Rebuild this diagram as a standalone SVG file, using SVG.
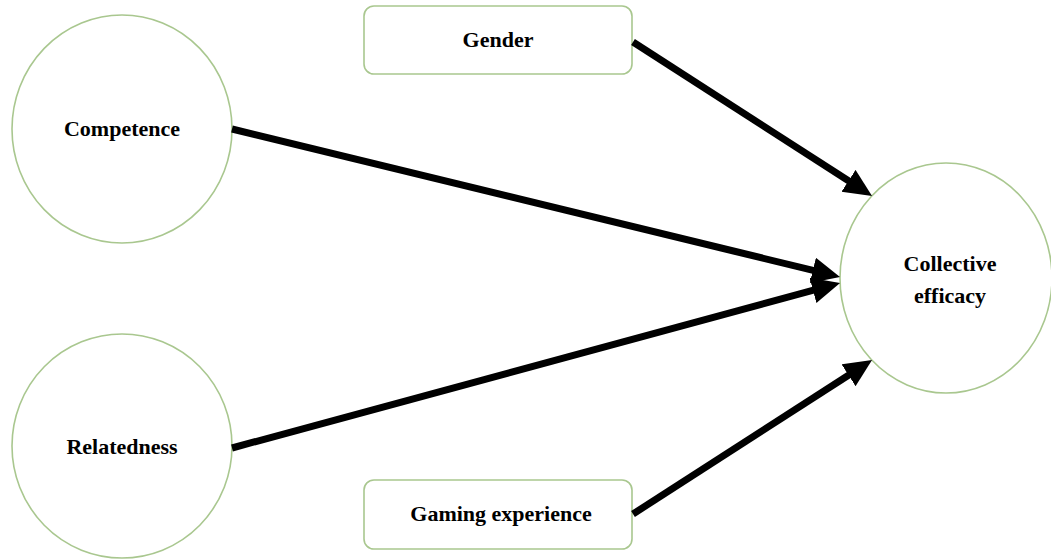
<svg xmlns="http://www.w3.org/2000/svg" width="1051" height="559" viewBox="0 0 1051 559">
<style>
.node{fill:#fff;stroke:#a9c78f;stroke-width:1.6}
.lbl{font-family:"Liberation Serif","Times New Roman",serif;font-weight:bold;font-size:22px;fill:#000;text-anchor:middle}
.conn{stroke:#000;stroke-width:7;fill:none}
</style>
<defs>
<marker id="ah" markerUnits="userSpaceOnUse" markerWidth="32" markerHeight="28" refX="12" refY="13" orient="auto">
<path d="M0,0 L28,13 L0,26 z" fill="#000"/>
</marker>
</defs>
<rect width="1051" height="559" fill="#fff"/>
<g id="competence">
<ellipse class="node" cx="122" cy="129" rx="110" ry="114"/>
<text class="lbl" x="122" y="136">Competence</text>
</g>
<g id="relatedness">
<ellipse class="node" cx="122" cy="446" rx="110" ry="112"/>
<text class="lbl" x="122" y="454">Relatedness</text>
</g>
<g id="gender">
<rect class="node" x="364" y="6" width="268" height="68" rx="10"/>
<text class="lbl" x="498" y="47">Gender</text>
</g>
<g id="gaming">
<rect class="node" x="364" y="480" width="268" height="69" rx="10"/>
<text class="lbl" x="501" y="521">Gaming experience</text>
</g>
<g id="efficacy">
<ellipse class="node" cx="946" cy="278" rx="106" ry="115"/>
<text class="lbl" x="950" y="271">Collective</text>
<text class="lbl" x="950" y="303">efficacy</text>
</g>
<g id="connectors">
<line class="conn" x1="232" y1="129" x2="824.5" y2="273.2" marker-end="url(#ah)"/>
<line class="conn" x1="232" y1="448" x2="824.6" y2="287.2" marker-end="url(#ah)"/>
<line class="conn" x1="633" y1="42" x2="858.6" y2="187.3" marker-end="url(#ah)"/>
<line class="conn" x1="633" y1="514" x2="858.6" y2="368.7" marker-end="url(#ah)"/>
</g>
</svg>
